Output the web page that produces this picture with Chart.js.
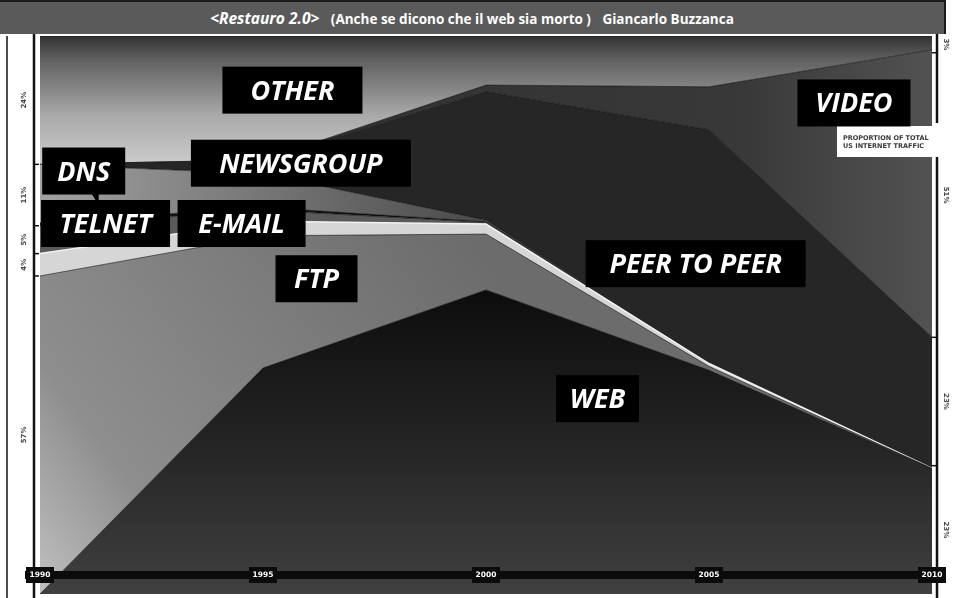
<!DOCTYPE html>
<html lang="it">
<head>
    <meta charset="UTF-8">
    <title>Restauro 2.0 - Traffico internet USA</title>
    <script src="https://cdn.jsdelivr.net/npm/chart.js"></script>
    <style>
        html, body {
            margin: 0;
            padding: 0;
            background: #fff;
            overflow: hidden;
        }
        .wrap {
            position: relative;
            width: 954px;
            height: 598px;
        }
        .title-bar {
            position: absolute;
            left: 0;
            top: 0;
            width: 944px;
            height: 32px;
            background: #5a5a5a;
            border-top: 2px solid #1b1b1b;
            border-right: 2px solid #1b1b1b;
            color: #fff;
            font-family: 'Open Sans', sans-serif;
            font-weight: bold;
            font-size: 13.5px;
            text-align: center;
            line-height: 32px;
            z-index: 2;
        }
        .title-bar .tag {
            font-style: italic;
            font-size: 15.5px;
            margin-right: 8px;
        }
        .title-bar .author {
            margin-left: 8px;
        }
        canvas {
            position: absolute;
            left: 0;
            top: 0;
        }
    </style>
</head>
<body>
<div class="wrap">
    <div class="title-bar"><span class="tag">&lt;Restauro 2.0&gt;</span> (Anche se dicono che il web sia morto ) <span class="author">Giancarlo Buzzanca</span></div>
    <canvas id="trafficChart" width="954" height="598"></canvas>
</div>

<script>
    // quota del traffico internet USA (%), dal basso verso l'alto
    const years = [1990, 1995, 2000, 2005, 2010];
    const web = [0, 40.5, 54.5, 40.1, 22.5];
    const ftp = [57, 23.7, 10, 0.7, 0];
    const email = [4, 2.6, 1.8, 0.5, 0];
    const telnet = [5, 2, 0.3, 0, 0];
    const dns = [0.5, 0.5, 0.1, 0, 0];
    const newsgroup = [10.5, 6, 0.3, 0, 0];
    const p2p = [0, 2.5, 23.0, 41.9, 23.5];
    const video = [0, 0, 1.2, 7.7, 51.5];
    const other = [23, 22.2, 8.8, 9.1, 2.5];

    // etichette stampate sui bordi (1990 a sinistra, 2010 a destra)
    const leftShares = [57, 4, 5, 11, 24];
    const rightShares = [23, 23, 51, 3];
    const yearTicks = [1990, 1995, 2000, 2005, 2010];

    // riquadri neri con i nomi (posizione in anno / percentuale)
    const labels = [
        { text: 'OTHER', year: 1995.66, pct: 90.3, w: 140 },
        { text: 'VIDEO', year: 2008.25, pct: 88.0, w: 113 },
        { text: 'NEWSGROUP', year: 1995.85, pct: 77.2, w: 220 },
        { text: 'DNS', year: 1990.98, pct: 75.8, w: 83, tail: true },
        { text: 'TELNET', year: 1991.47, pct: 66.4, w: 129 },
        { text: 'E-MAIL', year: 1994.52, pct: 66.4, w: 128 },
        { text: 'FTP', year: 1996.2, pct: 56.5, w: 82 },
        { text: 'PEER TO PEER', year: 2004.7, pct: 59.2, w: 220 },
        { text: 'WEB', year: 2002.5, pct: 35.0, w: 83 }
    ];

    function vGrad(stops) {
        return function (c) {
            const area = c.chart.chartArea;
            if (!area) return stops[0][1];
            const g = c.chart.ctx.createLinearGradient(0, area.top, 0, area.bottom);
            stops.forEach(s => g.addColorStop(s[0], s[1]));
            return g;
        };
    }

    function hGrad(stops) {
        return function (c) {
            const area = c.chart.chartArea;
            if (!area) return stops[0][1];
            const g = c.chart.ctx.createLinearGradient(area.left, 0, area.right, 0);
            stops.forEach(s => g.addColorStop(s[0], s[1]));
            return g;
        };
    }

    function ftpGrad(c) {
        const area = c.chart.chartArea;
        if (!area) return '#888';
        const g = c.chart.ctx.createLinearGradient(area.left, area.bottom,
            area.left + (area.right - area.left) * 0.5, area.top + (area.bottom - area.top) * 0.4);
        g.addColorStop(0, '#c0c0c0');
        g.addColorStop(0.25, '#8e8e8e');
        g.addColorStop(1, '#6c6c6c');
        return g;
    }

    function layer(name, data, fill, bg, border, bw) {
        return {
            label: name,
            data: data,
            fill: fill,
            backgroundColor: bg,
            borderColor: border || 'rgba(0,0,0,0.55)',
            borderWidth: bw || 1,
            pointRadius: 0,
            tension: 0
        };
    }

    const decorPlugin = {
        id: 'decor',
        afterDraw(chart) {
            const ctx = chart.ctx;
            const area = chart.chartArea;
            const xs = chart.scales.x;
            const ys = chart.scales.y;

            function line(x1, y1, x2, y2) {
                ctx.beginPath();
                ctx.moveTo(x1, y1);
                ctx.lineTo(x2, y2);
                ctx.stroke();
            }

            function vText(t, x, y, angle) {
                ctx.save();
                ctx.translate(x, y);
                ctx.rotate(angle);
                ctx.fillText(t, 0, 0);
                ctx.restore();
            }

            ctx.save();
            ctx.strokeStyle = '#111';
            ctx.fillStyle = '#444';
            ctx.font = 'bold 7px "DejaVu Sans"';
            ctx.textAlign = 'center';
            ctx.textBaseline = 'middle';

            // asse sinistro
            ctx.lineWidth = 1.5;
            line(7, area.top, 7, 598);
            ctx.lineWidth = 2.5;
            line(34, area.top - 4, 34, 598);
            let cum = 0;
            leftShares.forEach((s, i) => {
                const y0 = ys.getPixelForValue(cum);
                const y1 = ys.getPixelForValue(Math.min(cum + s, 100));
                if (i < leftShares.length - 1) {
                    ctx.lineWidth = 1.5;
                    line(34, y1, 39, y1);
                }
                vText(s + '%', 24, (y0 + y1) / 2, -Math.PI / 2);
                cum += s;
            });

            // asse destro
            ctx.lineWidth = 2.5;
            line(937, area.top - 4, 937, 123);
            line(937, 157, 937, 598);
            cum = 0;
            rightShares.forEach((s, i) => {
                const y0 = ys.getPixelForValue(cum);
                const y1 = ys.getPixelForValue(Math.min(cum + s, 100));
                if (i < rightShares.length - 1) {
                    ctx.lineWidth = 1.5;
                    line(932, y1, 937, y1);
                }
                vText(s + '%', 946, (y0 + y1) / 2, Math.PI / 2);
                cum += s;
            });

            // riquadro legenda
            ctx.fillStyle = '#fff';
            ctx.fillRect(837, 126, 117, 31);
            ctx.fillStyle = '#3a3a3a';
            ctx.font = 'bold 6.5px "DejaVu Sans"';
            ctx.textAlign = 'left';
            ctx.fillText('PROPORTION OF TOTAL', 843, 138);
            ctx.fillText('US INTERNET TRAFFIC', 843, 146);

            // barra degli anni
            ctx.fillStyle = '#0b0b0b';
            ctx.fillRect(25, 571, 920, 8);
            ctx.font = 'bold 7.5px "DejaVu Sans"';
            ctx.textAlign = 'center';
            yearTicks.forEach(yr => {
                const px = xs.getPixelForValue(yr);
                ctx.fillStyle = '#0b0b0b';
                ctx.fillRect(px - 14, 567, 28, 16);
                ctx.fillStyle = '#fff';
                ctx.fillText(String(yr), px, 575.5);
            });

            // nomi delle serie
            ctx.font = 'italic bold 27px "Open Sans"';
            ctx.textBaseline = 'alphabetic';
            labels.forEach(l => {
                const cx = xs.getPixelForValue(l.year);
                const cy = ys.getPixelForValue(l.pct);
                ctx.fillStyle = '#000';
                ctx.fillRect(cx - l.w / 2, cy - 23.5, l.w, 47);
                if (l.tail) {
                    ctx.beginPath();
                    ctx.moveTo(cx + 8, cy + 23);
                    ctx.lineTo(cx + 15, cy + 23);
                    ctx.lineTo(cx + 15, cy + 34);
                    ctx.closePath();
                    ctx.fill();
                }
                ctx.fillStyle = '#fff';
                ctx.fillText(l.text, cx, cy + 9.5);
            });
            ctx.restore();
        }
    };

    const ctx = document.getElementById('trafficChart').getContext('2d');
    const chart = new Chart(ctx, {
        type: 'line',
        data: {
            labels: years,
            datasets: [
                layer('Web', web, 'origin', vGrad([[0, '#0a0a0a'], [0.45, '#0c0c0c'], [0.75, '#262626'], [1, '#404040']])),
                layer('FTP', ftp, '-1', ftpGrad),
                layer('E-mail', email, '-1', '#d6d6d6', '#f2f2f2', 1.5),
                layer('Telnet', telnet, '-1', '#5a5a5a'),
                layer('DNS', dns, '-1', '#151515'),
                layer('Newsgroup', newsgroup, '-1', hGrad([[0, '#a2a2a2'], [0.5, '#4a4a4a'], [1, '#3a3a3a']])),
                layer('Peer to peer', p2p, '-1', '#262626'),
                layer('Video', video, '-1', hGrad([[0, '#2e2e2e'], [0.78, '#383838'], [1, '#525252']])),
                layer('Other', other, '-1', vGrad([[0, '#323232'], [0.04, '#5e5e5e'], [0.14, '#a8a8a8'], [0.24, '#d0d0d0'], [1, '#d0d0d0']]))
            ]
        },
        options: {
            responsive: false,
            animation: false,
            layout: {
                padding: { left: 40, right: 22, top: 36, bottom: 4 }
            },
            plugins: {
                legend: { display: false },
                tooltip: { enabled: false }
            },
            scales: {
                x: { type: 'linear', min: 1990, max: 2010, display: false },
                y: { stacked: true, min: 0, max: 100, display: false }
            }
        },
        plugins: [decorPlugin]
    });
</script>
</body>
</html>
